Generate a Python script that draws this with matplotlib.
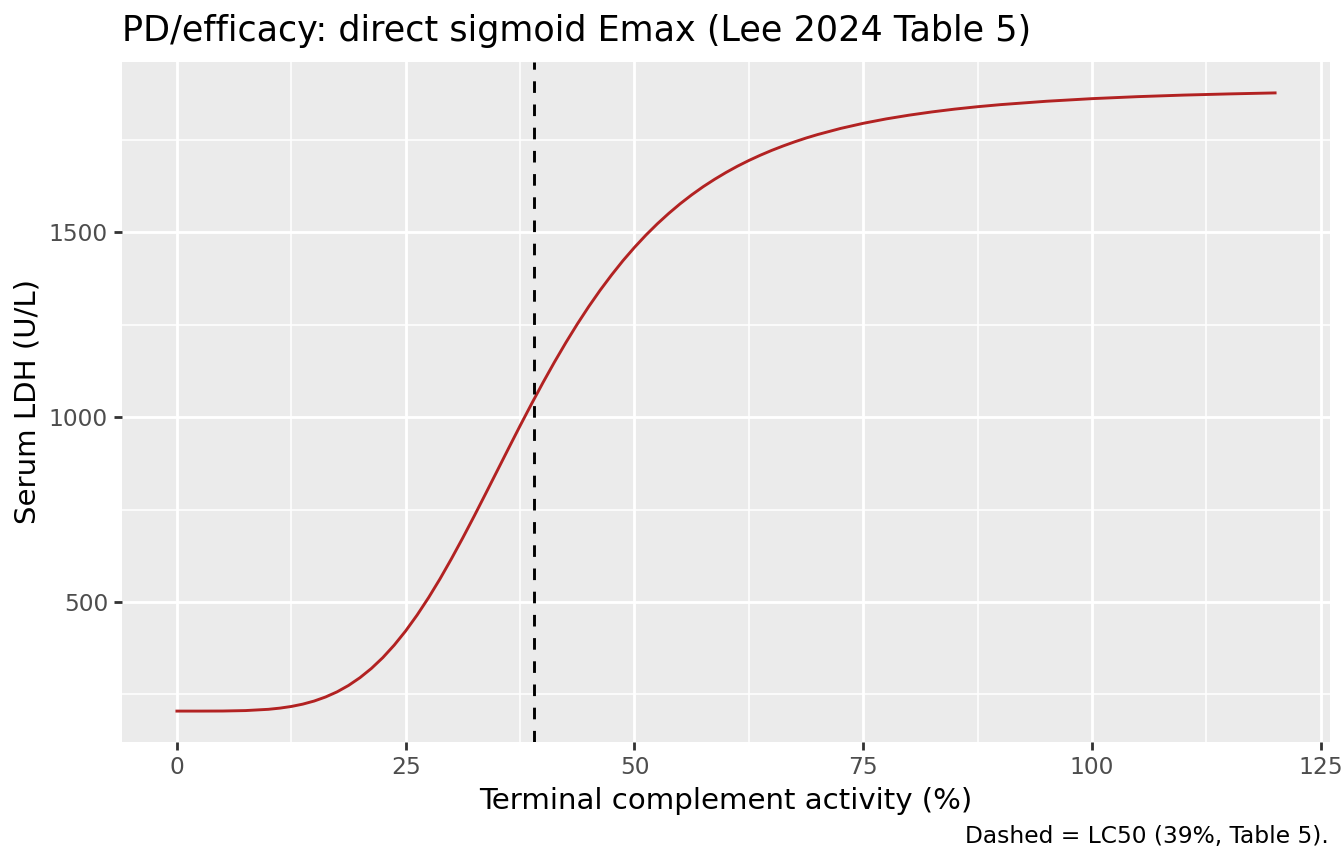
#! /usr/bin/env python3

"""Plot the direct sigmoid Emax PD curve (LDH vs complement activity)."""

import matplotlib
matplotlib.use('Agg')
import matplotlib.pyplot as plt

# Values
activity = [0, 2.5, 5, 7.5, 10, 11.25, 12.5, 13.75, 15, 16.25, 17.5, 18.75,
            20, 21.25, 22.5, 23.75, 25, 26.25, 27.5, 28.75, 30, 31.25,
            32.5, 33.75, 35, 36.25, 37.5, 38.75, 40, 41.25, 42.5, 43.75,
            45, 46.25, 47.5, 48.75, 50, 51.25, 52.5, 53.75, 55, 56.25,
            57.5, 58.75, 60, 61.25, 62.5, 63.75, 65, 66.25, 67.5, 68.75,
            70, 72.5, 75, 77.5, 80, 82.5, 85, 87.5, 90, 95, 100, 105, 110,
            115, 120]
ldh = [205.0, 205.0, 205.2, 206.4, 209.8, 213.0, 217.5, 223.8, 232.2,
       243.2, 257.0, 274.3, 295.3, 320.3, 349.6, 383.5, 421.9, 464.8,
       511.8, 562.6, 617.0, 674.0, 733.1, 793.7, 854.8, 916.0, 976.6,
       1035.7, 1093.3, 1148.6, 1201.4, 1251.6, 1298.9, 1343.2, 1384.5,
       1423.3, 1459.0, 1492.2, 1522.8, 1551.0, 1577.1, 1601.0, 1623.0,
       1643.0, 1661.5, 1678.5, 1694.0, 1708.2, 1721.3, 1733.3, 1744.4,
       1754.7, 1764.0, 1780.5, 1794.5, 1806.4, 1816.5, 1825.3, 1832.9,
       1839.4, 1845.0, 1854.1, 1861.2, 1866.6, 1870.8, 1874.0, 1876.7]
lc50 = 39

x_ticks = [0, 25, 50, 75, 100, 125]
y_ticks = [500, 1000, 1500]


def make_plot():
    """Draw the figure in a ggplot-like grey theme."""
    fig = plt.figure(figsize=(1344 / 144, 864 / 144), dpi=144)
    ax = fig.add_axes([122 / 1344, 1 - 742 / 864,
                       (1330 - 122) / 1344, (742 - 62) / 864])

    ax.set_facecolor('#EBEBEB')
    for spine in ax.spines.values():
        spine.set_visible(False)

    # Grid: major and minor white lines
    ax.set_xticks(x_ticks)
    ax.set_yticks(y_ticks)
    ax.set_xticks([12.5, 37.5, 62.5, 87.5, 112.5], minor=True)
    ax.set_yticks([250, 750, 1250, 1750], minor=True)
    ax.grid(which='major', color='white', linewidth=1.45)
    ax.grid(which='minor', color='white', linewidth=0.75)
    ax.set_axisbelow(True)
    ax.tick_params(which='minor', length=0)
    ax.tick_params(which='major', length=4, width=1.4, color='#333333',
                   labelcolor='#4D4D4D', labelsize=11.7, pad=3)

    ax.plot(activity, ldh, color='#B22222', linewidth=1.45)
    ax.axvline(lc50, color='black', linewidth=1.45, dashes=(4, 4))

    span_x = max(activity) - min(activity)
    span_y = max(ldh) - min(ldh)
    ax.set_xlim(min(activity) - 0.05 * span_x, max(activity) + 0.05 * span_x)
    ax.set_ylim(min(ldh) - 0.05 * span_y, max(ldh) + 0.05 * span_y)

    ax.set_xlabel('Terminal complement activity (%)', fontsize=14.6,
                  labelpad=4)
    ax.set_ylabel('Serum LDH (U/L)', fontsize=14.6, labelpad=3.5)

    fig.text(122 / 1344, 1 - 41 / 864,
             'PD/efficacy: direct sigmoid Emax (Lee 2024 Table 5)',
             fontsize=17.5, ha='left', va='baseline')
    fig.text(1329 / 1344, 1 - 843 / 864, 'Dashed = LC50 (39%, Table 5).',
             fontsize=11.7, ha='right', va='baseline')

    fig.savefig('out.png', dpi=144)


if __name__ == "__main__":
    make_plot()
